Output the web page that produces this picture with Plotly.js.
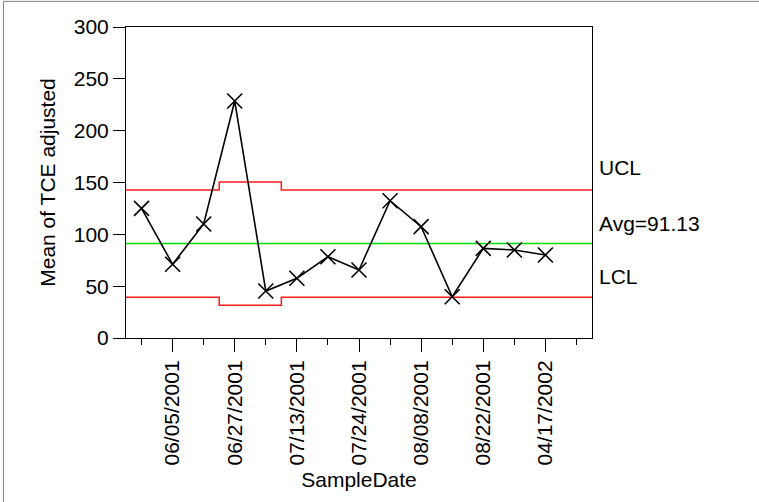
<!DOCTYPE html>
<html>
<head>
<meta charset="utf-8">
<script src="https://cdn.plot.ly/plotly-3.0.1.min.js"></script>
<style>
  html, body { margin: 0; padding: 0; background: #ffffff; }
  #chart { width: 759px; height: 502px; }
</style>
</head>
<body>
<div id="chart"></div>
<script>
// Subgroup means of TCE (adjusted), one per sample slot; the last slot is empty
const sampleMeans = [125.1, 71.1, 110.0, 228.6, 45.3, 57.6, 78.4, 65.6, 132.4, 107.4, 39.8, 86.5, 84.9, 80.1, null];

// Control limits for each sample slot (narrower/wider with subgroup size)
const centerLine = 91.13;
const upperLimits = [142.8, 142.8, 142.8, 150.5, 150.5, 142.8, 142.8, 142.8, 142.8, 142.8, 142.8, 142.8, 142.8, 142.8, 142.8];
const lowerLimits = [39.4, 39.4, 39.4, 31.6, 31.6, 39.4, 39.4, 39.4, 39.4, 39.4, 39.4, 39.4, 39.4, 39.4, 39.4];

// Date labels shown on every second sample slot (slots 1, 3, 5, ...)
const dateLabels = ["06/05/2001", "06/27/2001", "07/13/2001", "07/24/2001", "08/08/2001", "08/22/2001", "04/17/2002"];

const FONT = "Liberation Sans, Arial, Helvetica, sans-serif";
const FS = 21;
const slots = sampleMeans.map((_, i) => i);

// Turn per-slot limits into a stepped line spanning each slot's width
function stepped(values) {
  const xs = [], ys = [];
  values.forEach((v, i) => {
    xs.push(i - 0.5, i + 0.5);
    ys.push(v, v);
  });
  return { x: xs, y: ys };
}

const ucl = stepped(upperLimits);
const lcl = stepped(lowerLimits);

const traces = [
  {
    x: ucl.x, y: ucl.y, mode: "lines", type: "scatter",
    line: { color: "#ff1a1a", width: 1.5 }, hoverinfo: "skip"
  },
  {
    x: lcl.x, y: lcl.y, mode: "lines", type: "scatter",
    line: { color: "#ff1a1a", width: 1.5 }, hoverinfo: "skip"
  },
  {
    x: [-0.5, slots.length - 0.5], y: [centerLine, centerLine], mode: "lines", type: "scatter",
    line: { color: "#00dd00", width: 1.5 }, hoverinfo: "skip"
  },
  {
    x: slots, y: sampleMeans, mode: "lines+markers", type: "scatter",
    line: { color: "#000000", width: 1.6 },
    marker: { symbol: "x-thin", size: 15, line: { color: "#000000", width: 1.6 } },
    connectgaps: false
  }
];

const labelTickVals = dateLabels.map((_, k) => 2 * k + 1);

const layout = {
  width: 759,
  height: 502,
  margin: { l: 126, r: 167, t: 27, b: 164 },
  paper_bgcolor: "#ffffff",
  plot_bgcolor: "#ffffff",
  showlegend: false,
  hovermode: false,
  font: { family: FONT, size: FS, color: "#000000" },
  xaxis: {
    range: [-0.5, slots.length - 0.5],
    tickmode: "array",
    tickvals: labelTickVals,
    ticktext: dateLabels,
    tickangle: -90,
    ticks: "outside",
    ticklen: 13,
    tickwidth: 1,
    tickcolor: "#000000",
    tickfont: { family: FONT, size: FS, color: "#000000" },
    minor: { tickmode: "array", tickvals: slots, ticks: "outside", ticklen: 6, tickwidth: 1, tickcolor: "#000000", showgrid: false },
    showline: true,
    linecolor: "#000000",
    linewidth: 1,
    mirror: true,
    showgrid: false,
    zeroline: false,
    title: { text: "SampleDate", font: { family: FONT, size: FS, color: "#000000" }, standoff: 7 }
  },
  yaxis: {
    range: [0, 300],
    tickmode: "linear",
    tick0: 0,
    dtick: 50,
    ticks: "outside",
    ticklen: 12,
    tickwidth: 1,
    tickcolor: "#000000",
    tickfont: { family: FONT, size: FS, color: "#000000" },
    showline: true,
    linecolor: "#000000",
    linewidth: 1,
    mirror: true,
    showgrid: false,
    zeroline: false,
    title: { text: "Mean of TCE adjusted", font: { family: FONT, size: FS, color: "#000000" }, standoff: 12 }
  },
  annotations: [
    { text: "UCL", xref: "paper", x: 1, xanchor: "left", xshift: 5, yref: "y", y: upperLimits[upperLimits.length - 1], yanchor: "middle", yshift: 22, showarrow: false, font: { family: FONT, size: FS, color: "#000000" } },
    { text: "Avg=" + centerLine.toFixed(2), xref: "paper", x: 1, xanchor: "left", xshift: 5, yref: "y", y: centerLine, yanchor: "middle", yshift: 20, showarrow: false, font: { family: FONT, size: FS, color: "#000000" } },
    { text: "LCL", xref: "paper", x: 1, xanchor: "left", xshift: 5, yref: "y", y: lowerLimits[lowerLimits.length - 1], yanchor: "middle", yshift: 21, showarrow: false, font: { family: FONT, size: FS, color: "#000000" } }
  ],
  shapes: [
    // outer frame edges (top and left)
    { type: "line", xref: "paper", yref: "paper", x0: -0.263, x1: 1.4, y0: 1.0825, y1: 1.0825, line: { color: "#808080", width: 1 } },
    { type: "line", xref: "paper", yref: "paper", x0: -0.263, x1: -0.263, y0: 1.0825, y1: -0.6, line: { color: "#808080", width: 1 } }
  ]
};

Plotly.newPlot("chart", traces, layout, { displayModeBar: false, staticPlot: true });
</script>
</body>
</html>
